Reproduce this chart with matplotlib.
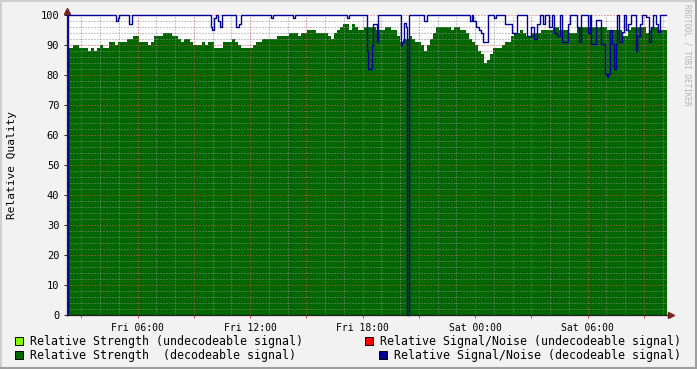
import numpy as np
import pandas as pd
import matplotlib
matplotlib.use('Agg')
import matplotlib.pyplot as plt
import matplotlib.dates as mdates
from matplotlib.ticker import MultipleLocator, FuncFormatter
from matplotlib.patches import Rectangle
from matplotlib.lines import Line2D

plt.rcParams['lines.scale_dashes'] = False

# graph window: 32 hours starting friday 02:14
start = pd.Timestamp('2023-03-03 02:14:24')
span_min = 1920
step_min = 9.6

# relative strength (decodeable signal), one value per 9.6 min
strength = [89, 89, 90, 90, 89, 89, 89, 88, 89, 88,
            89, 90, 89, 89, 91, 91, 90, 91, 91, 91,
            92, 92, 93, 93, 91, 91, 91, 90, 91, 93,
            93, 93, 94, 94, 94, 93, 93, 92, 91, 92,
            92, 91, 90, 90, 90, 91, 90, 91, 91, 89,
            89, 89, 91, 91, 91, 92, 91, 90, 89, 89,
            89, 89, 90, 91, 91, 92, 92, 92, 92, 92,
            93, 93, 93, 93, 94, 94, 94, 93, 94, 94,
            95, 95, 95, 94, 94, 94, 94, 93, 92, 94,
            95, 96, 97, 97, 95, 97, 96, 95, 95, 96,
            96, 96, 96, 95, 95, 95, 96, 96, 95, 95,
            93, 91, 92, 92, 93, 92, 91, 91, 90, 88,
            90, 92, 94, 96, 96, 96, 96, 96, 95, 96,
            96, 95, 95, 94, 92, 91, 90, 88, 87, 84,
            85, 87, 89, 89, 89, 90, 91, 91, 93, 94,
            94, 95, 94, 93, 93, 94, 94, 94, 95, 95,
            95, 95, 96, 96, 95, 95, 95, 94, 94, 94,
            96, 96, 96, 96, 96, 96, 96, 96, 96, 96,
            95, 95, 95, 95, 95, 93, 93, 95, 96, 96,
            96, 96, 96, 94, 95, 96, 96, 95, 95, 95]

# relative signal/noise (decodeable signal), value from each time (minutes after start)
snr_min = [0, 3.2, 156.8, 163.2, 166.4, 198.4, 208, 460.8, 464, 470.4,
           476.8, 483.2, 489.6, 496, 540.8, 550.4, 556.8, 652.8, 659.2, 723.2,
           729.6, 896, 902.4, 960, 963.2, 976, 979.2, 992, 995.2, 1068.8,
           1072, 1078.4, 1084.8, 1088, 1094.4, 1142.4, 1152, 1289.6, 1296, 1299.2,
           1308.8, 1318.4, 1324.8, 1331.2, 1347.2, 1366.4, 1372.8, 1401.6, 1424, 1440,
           1472, 1484.8, 1494.4, 1504, 1513.6, 1523.2, 1529.6, 1542.4, 1552, 1558.4,
           1568, 1577.6, 1584, 1603.2, 1609.6, 1632, 1638.4, 1644.8, 1667.2, 1673.6,
           1676.8, 1692.8, 1708.8, 1721.6, 1728, 1731.2, 1737.6, 1744, 1750.4, 1756.8,
           1760, 1766.4, 1776, 1782.4, 1788.8, 1795.2, 1804.8, 1820.8, 1824, 1833.6,
           1840, 1852.8, 1862.4, 1868.8, 1875.2, 1884.8, 1891.2, 1897.6]
snr = [0, 100, 98, 99, 100, 97, 100, 96, 95, 99,
       100, 98, 96, 100, 96, 97, 100, 99, 100, 99,
       100, 99, 100, 88, 82, 90, 97, 91, 100, 90,
       91, 97.5, 96, 0, 100, 98, 100, 98, 100, 98,
       96, 95, 94, 91, 100, 99, 100, 97, 94, 100,
       93, 96, 92, 97, 100, 97, 100, 96, 100, 94,
       93, 100, 91, 97, 100, 96, 91, 100, 94, 100,
       90.5, 98.5, 90.5, 80.5, 79.5, 80.5, 95, 90.5, 82, 90.5,
       100, 91, 94.5, 100, 95, 97, 100, 88, 93, 97,
       100, 99.5, 91, 96, 100, 97, 94.5, 100]
snr_end = 1916.8

legend_left = ['Relative Strength (undecodeable signal)', 'Relative Strength  (decodeable signal)']
legend_right = ['Relative Signal/Noise (undecodeable signal)', 'Relative Signal/Noise (decodeable signal)']

mono = 'DejaVu Sans Mono'
W, H = 697, 369

def tnum(mins):
    return mdates.date2num((start + pd.to_timedelta(np.asarray(mins, dtype=float), unit='min')).values)

fig = plt.figure(figsize=(W / 100, H / 100), dpi=100, facecolor='#F2F2F2')
ax = fig.add_axes([67 / W, 1 - 315 / H, 600 / W, 300 / H])
ax.set_facecolor('white')

x_str = tnum(np.arange(len(strength) + 1) * step_min)
ax.fill_between(x_str, 0, strength + [strength[-1]], step='post', color='#006600', lw=0, zorder=1)

x_snr = tnum(snr_min + [snr_end])
ax.step(x_snr, snr + [snr[-1]], where='post', color='#000099', lw=1.0, zorder=4, clip_on=False)

ax.set_xlim(tnum([0])[0], tnum([span_min])[0])
ax.set_ylim(0, 100)

grid_c = (0.56, 0.56, 0.56, 0.45)
mgrid_c = (0.87, 0.31, 0.31, 0.45)
dots = (0, (0.72, 1.44))

ax.yaxis.set_major_locator(MultipleLocator(10))
ax.yaxis.set_minor_locator(MultipleLocator(2))
ax.xaxis.set_major_locator(mdates.HourLocator(byhour=range(0, 24, 3)))
ax.xaxis.set_minor_locator(mdates.HourLocator())

def xfmt(v, pos):
    d = mdates.num2date(round(v * 24) / 24)
    return d.strftime('%a %H:%M') if d.hour % 6 == 0 else ''

ax.xaxis.set_major_formatter(FuncFormatter(xfmt))

ax.set_axisbelow(False)
ax.grid(which='minor', color=grid_c, ls=dots, lw=0.72, zorder=3)
ax.grid(which='major', color=mgrid_c, ls=dots, lw=0.72, zorder=3)

for s in ['top', 'right']:
    ax.spines[s].set_visible(False)
for s in ['left', 'bottom']:
    ax.spines[s].set_color((0.12, 0.12, 0.12))
    ax.spines[s].set_linewidth(0.9)
    ax.spines[s].set_zorder(5)

ax.tick_params(axis='x', which='major', length=2.5, width=0.7, color=(0.87, 0.31, 0.31), pad=3,
               labelsize=7, labelfontfamily=mono)
ax.tick_params(axis='x', which='minor', length=0)
ax.tick_params(axis='y', which='major', length=2.5, width=0.7, color=(0.12, 0.12, 0.12), pad=3,
               labelsize=7.5, labelfontfamily=mono)
ax.tick_params(axis='y', which='minor', length=0)

# axis arrows
arrow_c = (0.5, 0.12, 0.12)
ax.plot([0, 0], [1.0, 1.012], transform=ax.transAxes, color=(0.12, 0.12, 0.12), lw=0.9, clip_on=False)
ax.plot([0], [1.013], marker='^', ms=4, color=arrow_c, transform=ax.transAxes, clip_on=False, mec=arrow_c)
ax.plot([1.0, 1.006], [0, 0], transform=ax.transAxes, color=(0.12, 0.12, 0.12), lw=0.9, clip_on=False)
ax.plot([1.007], [0], marker='>', ms=4, color=arrow_c, transform=ax.transAxes, clip_on=False, mec=arrow_c)

fig.text(12 / W, 1 - 165 / H, 'Relative Quality', rotation=90, ha='center', va='center',
         fontsize=8, family=mono)
fig.text(687 / W, 1 - 4 / H, 'RRDTOOL / TOBI OETIKER', rotation=270, ha='center', va='top',
         fontsize=5.5, family=mono, color='#B4B4B4')

# legend
def legend_item(xb, yc, color, label):
    fig.add_artist(Rectangle((xb / W, 1 - (yc + 4) / H), 8 / W, 8 / H, transform=fig.transFigure,
                             facecolor=color, edgecolor='black', lw=0.7))
    fig.text((xb + 15) / W, 1 - yc / H, label, ha='left', va='center', fontsize=8.4, family=mono)

legend_item(15, 341, '#80FF00', legend_left[0])
legend_item(15, 355, '#006600', legend_left[1])
legend_item(365, 341, '#FF0000', legend_right[0])
legend_item(379, 355, '#000099', legend_right[1])

# 3d frame
fig.add_artist(Line2D([0, 1], [1 - 1 / H, 1 - 1 / H], transform=fig.transFigure, color='#CFCFCF', lw=1.5))
fig.add_artist(Line2D([1 / W, 1 / W], [0, 1], transform=fig.transFigure, color='#CFCFCF', lw=1.5))
fig.add_artist(Line2D([0, 1], [1 / H, 1 / H], transform=fig.transFigure, color='#9E9E9E', lw=1.5))
fig.add_artist(Line2D([1 - 1 / W, 1 - 1 / W], [0, 1], transform=fig.transFigure, color='#9E9E9E', lw=1.5))

fig.savefig('out.png', dpi=100, facecolor=fig.get_facecolor())
